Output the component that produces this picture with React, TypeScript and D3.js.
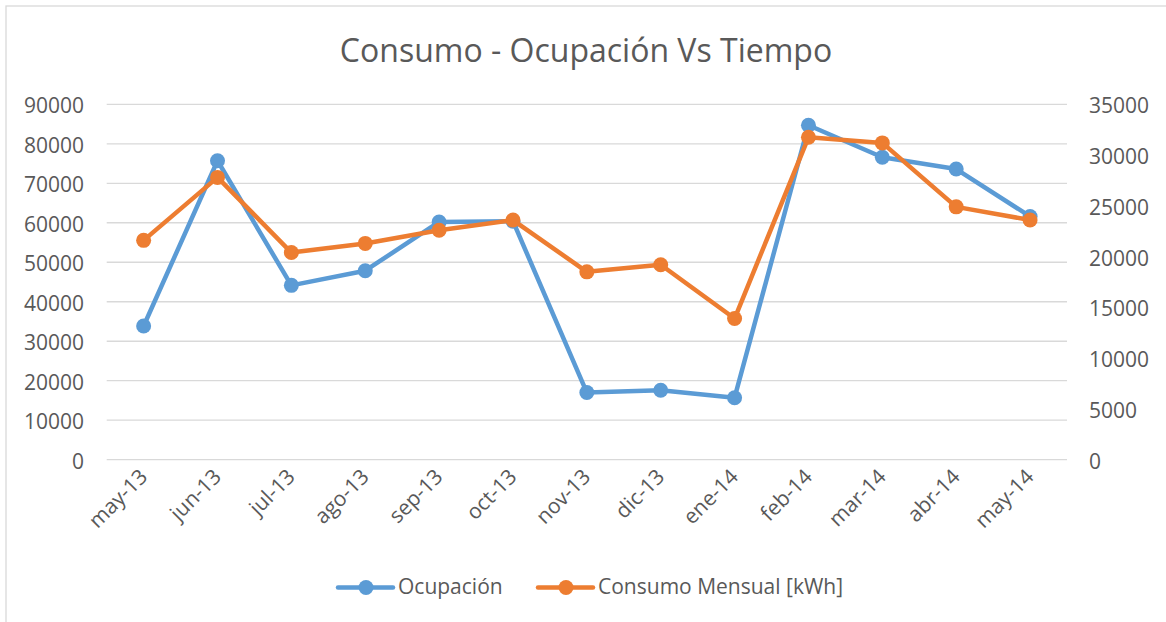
import React from "react";
import * as d3 from "d3";

const categories = ["may-13","jun-13","jul-13","ago-13","sep-13","oct-13","nov-13","dic-13","ene-14","feb-14","mar-14","abr-14","may-14"];
const ocupacion = [33850, 75700, 44150, 47850, 60200, 60400, 17000, 17600, 15700, 84700, 76600, 73600, 61600];
const consumo = [21600, 27800, 20400, 21300, 22600, 23600, 18500, 19200, 13900, 31750, 31200, 24900, 23600];
const leftTicks = [0, 10000, 20000, 30000, 40000, 50000, 60000, 70000, 80000, 90000];
const rightTicks = [0, 5000, 10000, 15000, 20000, 25000, 30000, 35000];
const title = "Consumo - Ocupación Vs Tiempo";
const seriesNames = ["Ocupación", "Consumo Mensual [kWh]"];

const W = 1166, H = 622;
const plot = { left: 106.7, right: 1067, top: 104.3, bottom: 459.7 };
const BLUE = "#5B9BD5", ORANGE = "#ED7D31", TEXT = "#595959", GRID = "#D9D9D9";
const FONT = "'Open Sans', 'Noto Sans', sans-serif";

export default function App() {
  const x = d3.scaleBand<string>().domain(categories).range([plot.left, plot.right]);
  const cx = (c: string) => (x(c) as number) + x.bandwidth() / 2;
  const yL = d3.scaleLinear().domain([0, 90000]).range([plot.bottom, plot.top]);
  const yR = d3.scaleLinear().domain([0, 35000]).range([plot.bottom, plot.top]);

  const lineL = d3.line<number>().x((_, i) => cx(categories[i])).y((d) => yL(d));
  const lineR = d3.line<number>().x((_, i) => cx(categories[i])).y((d) => yR(d));

  const series = [
    { name: seriesNames[0], data: ocupacion, color: BLUE, path: lineL(ocupacion), y: yL },
    { name: seriesNames[1], data: consumo, color: ORANGE, path: lineR(consumo), y: yR },
  ];

  const legend = [
    { x0: 338, text: seriesNames[0], color: BLUE },
    { x0: 538, text: seriesNames[1], color: ORANGE },
  ];

  return (
    <svg width={W} height={H} style={{ position: "absolute", left: 0, top: 0, background: "#fff" }} fontFamily={FONT}>
      <rect x={6} y={6} width={W + 10} height={H + 10} fill="#fff" stroke={GRID} strokeWidth={1.3} />
      <text x={W / 2 + 3} y={62} textAnchor="middle" fontSize={32} fill={TEXT}>{title}</text>
      {leftTicks.map((t) => (
        <g key={"l" + t}>
          <line x1={plot.left} x2={plot.right} y1={yL(t)} y2={yL(t)} stroke={GRID} strokeWidth={1.3} />
          <text x={84} y={yL(t) + 9} textAnchor="end" fontSize={21} fill={TEXT}>{t}</text>
        </g>
      ))}
      {rightTicks.map((t) => (
        <text key={"r" + t} x={1089} y={yR(t) + 9} textAnchor="start" fontSize={21} fill={TEXT}>{t}</text>
      ))}
      {categories.map((c) => (
        <text key={c} transform={`translate(${cx(c) + 5},${478}) rotate(-45)`} textAnchor="end" fontSize={21} fill={TEXT}>{c}</text>
      ))}
      {series.map((s) => (
        <g key={s.name}>
          <path d={s.path || ""} fill="none" stroke={s.color} strokeWidth={4.5} strokeLinejoin="round" strokeLinecap="round" />
          {s.data.map((v, i) => (
            <circle key={i} cx={cx(categories[i])} cy={s.y(v)} r={7.5} fill={s.color} />
          ))}
        </g>
      ))}
      {legend.map((l) => (
        <g key={l.text}>
          <line x1={l.x0} x2={l.x0 + 55} y1={587.5} y2={587.5} stroke={l.color} strokeWidth={4.5} strokeLinecap="round" />
          <circle cx={l.x0 + 28} cy={587.5} r={7.5} fill={l.color} />
          <text x={l.x0 + 60} y={594} fontSize={21} fill={TEXT}>{l.text}</text>
        </g>
      ))}
    </svg>
  );
}
